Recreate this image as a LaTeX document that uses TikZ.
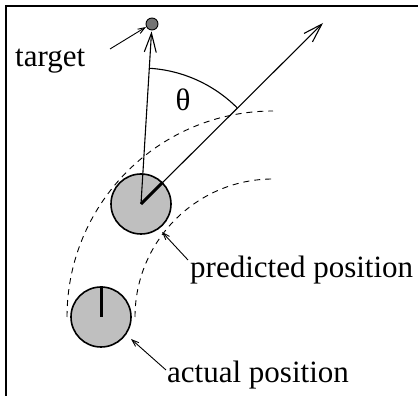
\documentclass[tikz,border=0pt]{standalone}
\usepackage{fontspec}
\setmainfont{Liberation Serif}
\newfontfamily\lblfont{Liberation Serif}
\usetikzlibrary{arrows.meta,calc}
\begin{document}
\begin{tikzpicture}[x=1pt,y=1pt,
  robot/.style={circle,draw=black,line width=1.6pt,fill=black!25,minimum size=60pt,inner sep=0pt},
  tdot/.style={circle,draw=black,line width=0.9pt,fill=black!55,minimum size=12pt,inner sep=0pt},
  thinline/.style={line width=1.1pt},
  bigarrow/.style={line width=1.1pt,-{Straight Barb[length=19pt,width=12pt,line width=1.1pt]}},
  leader/.style={line width=0.9pt,-{Straight Barb[length=7pt,width=5pt,line width=0.9pt]}},
  pathdash/.style={line width=0.9pt,dash pattern=on 6pt off 5pt},
  heading/.style={line width=3pt},
  lbl/.style={inner sep=0pt,font=\lblfont\fontsize{31}{37}\selectfont}]
\useasboundingbox (0,0) rectangle (418,396);
% frame
\draw[line width=2.6pt] (6,0) -- (6,390) -- (420,390);
% path guides
\coordinate (c) at (273,79);
\draw[pathdash] ($(c)+(-206,0)$) arc[start angle=180,end angle=90,radius=206];
\draw[pathdash] ($(c)+(-138,0)$) arc[start angle=180,end angle=90,radius=138];
% robots
\node[robot] (act) at (101,79) {};
\node[robot] (pred) at (141,192) {};
\node[tdot] (tgt) at (152,372) {};
\coordinate (htip) at (323,373);
% theta arc
\draw[thinline] ($(pred.center)+(86.5:136)$) arc[start angle=86.5,end angle=45,radius=136];
\node[lbl] (theta) at (183,296) {θ};
% arrows
\draw[bigarrow,shorten >=1pt] (pred.center) -- (tgt);
\draw[bigarrow] (pred.center) -- (htip);
\draw[heading] (pred.center) -- (pred.45);
\draw[heading] (act.center) -- (act.north);
% labels
\node[lbl,anchor=base west] (tlab) at (15,329) {target};
\node[lbl,anchor=base west] (plab) at (190,118) {predicted position};
\node[lbl,anchor=base west] (alab) at (167,13) {actual position};
% leaders
\coordinate (tls) at (110,347);
\coordinate (pls) at (188,136);
\coordinate (als) at (166,26);
\draw[leader] (tls) -- ($(tgt.center)+(-6,-3)$);
\draw[leader] (pls) -- ($(pred.center)+(21,-28)$);
\draw[leader] (als) -- ($(act.center)+(30,-22)$);
\end{tikzpicture}
\end{document}
